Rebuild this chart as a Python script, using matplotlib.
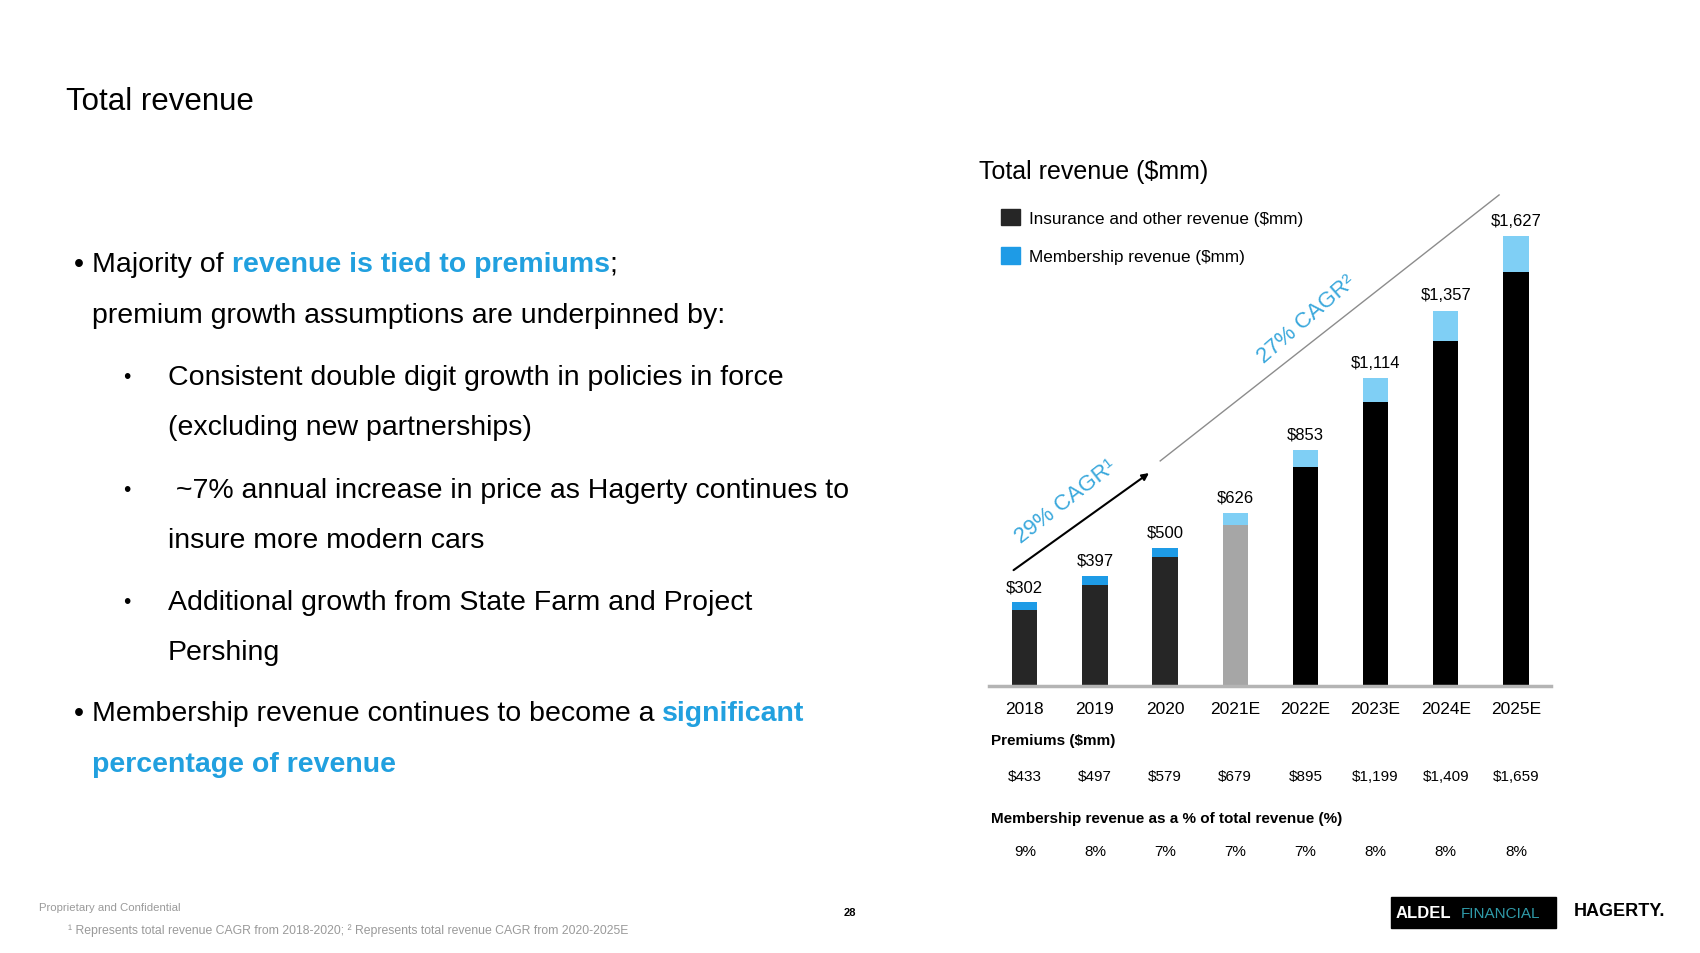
import matplotlib
matplotlib.use('Agg')
import matplotlib.pyplot as plt
from matplotlib.patches import Patch, Rectangle
import numpy as np

plt.rcParams['font.family'] = ['Liberation Sans', 'DejaVu Sans']

# chart data
years = ['2018', '2019', '2020', '2021E', '2022E', '2023E', '2024E', '2025E']
total_rev = [302, 397, 500, 626, 853, 1114, 1357, 1627]
membership_rev = [27, 30, 34, 44, 60, 88, 108, 128]
premiums = [433, 497, 579, 679, 895, 1199, 1409, 1659]
membership_pct = [9, 8, 7, 7, 7, 8, 8, 8]

insurance_rev = [t - m for t, m in zip(total_rev, membership_rev)]

ins_colors = ['#262626'] * 3 + ['#a6a6a6'] + ['#000000'] * 4
mem_colors = ['#1e9be6'] * 3 + ['#7fcff5'] * 5
blue = '#21a0df'

W, H = 1700, 954
fig = plt.figure(figsize=(17, 9.54), dpi=100)

# background axes in pixel coordinates for the slide text
bg = fig.add_axes([0, 0, 1, 1])
bg.set_xlim(0, W)
bg.set_ylim(H, 0)
bg.axis('off')


def rich_line(x, y, parts, size):
    prev = None
    for txt, color, weight in parts:
        if prev is None:
            prev = bg.text(x, y, txt, color=color, fontweight=weight,
                           fontsize=size, va='baseline', ha='left')
        else:
            prev = bg.annotate(txt, xy=(1, 0), xycoords=prev, color=color,
                               fontweight=weight, fontsize=size,
                               va='bottom', ha='left')
    return prev


bg.text(66, 110, 'Total revenue', fontsize=22.5, va='baseline')

body = 20.5
bg.text(74, 272, '\u2022', fontsize=body, va='baseline')
rich_line(92, 272, [('Majority of ', 'black', 'normal'),
                    ('revenue is tied to premiums', blue, 'bold'),
                    (';', 'black', 'normal')], body)
bg.text(92, 323, 'premium growth assumptions are underpinned by:',
        fontsize=body, va='baseline')

sub = [
    (385, '\u2022', 'Consistent double digit growth in policies in force'),
    (435, None, '(excluding new partnerships)'),
    (498, '\u2022', ' ~7% annual increase in price as Hagerty continues to'),
    (548, None, 'insure more modern cars'),
    (610, '\u2022', 'Additional growth from State Farm and Project'),
    (660, None, 'Pershing'),
]
for yy, b, txt in sub:
    if b:
        bg.text(123, yy - 2, b, fontsize=15, va='baseline')
    bg.text(168, yy, txt, fontsize=body, va='baseline')

bg.text(74, 721, '\u2022', fontsize=body, va='baseline')
rich_line(92, 721, [('Membership revenue continues to become a ', 'black', 'normal'),
                    ('significant', blue, 'bold')], body)
bg.text(92, 772, 'percentage of revenue', color=blue, fontweight='bold',
        fontsize=body, va='baseline')

# chart
bg.text(979, 172, 'Total revenue ($mm)', fontsize=18, va='center')

ax = fig.add_axes([989 / W, 1 - 687 / H, (1551 - 989) / W, 497.7 / H])
ax.patch.set_visible(False)
x = np.arange(len(years))
ax.bar(x, insurance_rev, width=0.36, color=ins_colors)
ax.bar(x, membership_rev, bottom=insurance_rev, width=0.36, color=mem_colors)
ax.set_xlim(-0.51, 7.5)
ax.set_ylim(0, 1800)
for s in ['top', 'right', 'left']:
    ax.spines[s].set_visible(False)
ax.spines['bottom'].set_color('#b4b4b4')
ax.spines['bottom'].set_linewidth(2.5)
ax.set_yticks([])
ax.set_xticks(x, years)
ax.tick_params(axis='x', length=0, pad=11, labelsize=12.5)

for i, t in enumerate(total_rev):
    ax.annotate(f'${t:,}', (i, t), xytext=(0, 6), textcoords='offset points',
                ha='center', va='bottom', fontsize=12)

xt = ax.get_xaxis_transform()
for i, p in enumerate(premiums):
    ax.text(i, -0.181, f'${p:,}', transform=xt, ha='center', va='center',
            fontsize=11)
for i, p in enumerate(membership_pct):
    ax.text(i, -0.332, f'{p}%', transform=xt, ha='center', va='center',
            fontsize=11)

bg.text(991, 741, 'Premiums ($mm)', fontweight='bold', fontsize=11, va='center')
bg.text(991, 819, 'Membership revenue as a % of total revenue (%)',
        fontweight='bold', fontsize=11, va='center')

# CAGR annotations
ax.annotate('', xy=(1.77, 770), xytext=(-0.16, 419),
            arrowprops=dict(arrowstyle='-|>', color='black', lw=1.5,
                            mutation_scale=10, shrinkA=0, shrinkB=0))
ax.plot([1.93, 6.76], [814, 1776], color='#8c8c8c', lw=1, clip_on=False)
ax.text(0.585, 668, '29% CAGR\u00b9', rotation=38, color='#3aa8dc',
        fontsize=16, ha='center', va='center')
ax.text(4.01, 1327, '27% CAGR\u00b2', rotation=41, color='#3aa8dc',
        fontsize=16, ha='center', va='center')

handles = [Patch(color='#262626'), Patch(color='#1e9be6')]
labels = ['Insurance and other revenue ($mm)', 'Membership revenue ($mm)']
ax.legend(handles, labels, loc='upper left',
          bbox_to_anchor=(1001 / W, 1 - 210 / H),
          bbox_transform=fig.transFigure, frameon=False, fontsize=12.3,
          handlelength=1.1, handleheight=1.1, handletextpad=0.55,
          labelspacing=1.25, borderpad=0, borderaxespad=0)

# footer
bg.text(39, 908, 'Proprietary and Confidential', fontsize=8.2,
        color='#9a9a9a', va='center')
bg.text(68, 931, '\u00b9 Represents total revenue CAGR from 2018-2020; '
        '\u00b2 Represents total revenue CAGR from 2020-2025E',
        fontsize=8.8, color='#9a9a9a', va='center')
bg.text(850, 913, '28', fontsize=8, fontweight='bold', va='center', ha='center')

bg.add_patch(Rectangle((1391, 898), 165, 31, color='black'))
bg.text(1396, 914, 'ALDEL', color='white', fontsize=12, va='center',
        fontweight='bold')
bg.text(1461, 914, 'FINANCIAL', color='#2f9aa8', fontsize=11, va='center')
bg.text(1574, 912, 'HAGERTY.', color='black', fontsize=13, va='center',
        fontweight='heavy')

fig.savefig('out.png', dpi=100)
